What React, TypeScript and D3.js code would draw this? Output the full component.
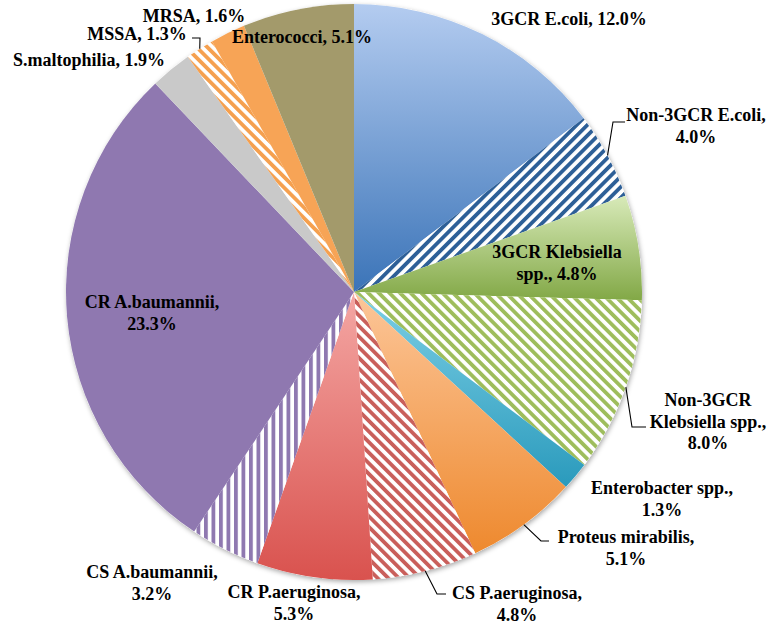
import React from "react";
import * as d3 from "d3";

const categories = [
  "3GCR E.coli",
  "Non-3GCR E.coli",
  "3GCR Klebsiella spp.",
  "Non-3GCR Klebsiella spp.",
  "Enterobacter spp.",
  "Proteus mirabilis",
  "CS P.aeruginosa",
  "CR P.aeruginosa",
  "CS A.baumannii",
  "CR A.baumannii",
  "S.maltophilia",
  "MSSA",
  "MRSA",
  "Enterococci",
];
const values = [12.0, 4.0, 4.8, 8.0, 1.3, 5.1, 4.8, 5.3, 3.2, 23.3, 1.9, 1.3, 1.6, 5.1];

// styles per slice
type Fill =
  | { kind: "grad"; top: string; bottom: string }
  | { kind: "flat"; color: string }
  | { kind: "hatch"; color: string; angle: number };
const fills: Fill[] = [
  { kind: "grad", top: "#b4ccf0", bottom: "#3b74b8" },
  { kind: "hatch", color: "#2d5f97", angle: 45 },
  { kind: "grad", top: "#d8eab9", bottom: "#82a846" },
  { kind: "hatch", color: "#9ebd5c", angle: -45 },
  { kind: "grad", top: "#7ccfe5", bottom: "#2a9abc" },
  { kind: "grad", top: "#fcc699", bottom: "#ee892e" },
  { kind: "hatch", color: "#c95f5b", angle: -45 },
  { kind: "grad", top: "#f4a7a4", bottom: "#d9524e" },
  { kind: "hatch", color: "#8f78b0", angle: 0 },
  { kind: "flat", color: "#8f78b0" },
  { kind: "flat", color: "#c9c9c9" },
  { kind: "hatch", color: "#f5a04f", angle: -45 },
  { kind: "flat", color: "#f7a456" },
  { kind: "flat", color: "#a39a6b" },
];

// label layout (x = text centre, y = first line centre)
const labelLines: string[][] = [
  ["3GCR E.coli, 12.0%"],
  ["Non-3GCR E.coli,", "4.0%"],
  ["3GCR Klebsiella", "spp., 4.8%"],
  ["Non-3GCR", "Klebsiella spp.,", "8.0%"],
  ["Enterobacter spp.,", "1.3%"],
  ["Proteus mirabilis,", "5.1%"],
  ["CS P.aeruginosa,", "4.8%"],
  ["CR P.aeruginosa,", "5.3%"],
  ["CS A.baumannii,", "3.2%"],
  ["CR A.baumannii,", "23.3%"],
  ["S.maltophilia, 1.9%"],
  ["MSSA, 1.3%"],
  ["MRSA, 1.6%"],
  ["Enterococci, 5.1%"],
];
const labelPos: [number, number][] = [
  [569, 19],
  [696, 115],
  [557, 252],
  [708, 400],
  [662, 488],
  [626, 537],
  [517, 593],
  [294, 592],
  [152, 572],
  [152, 302],
  [89, 60],
  [137, 34],
  [194, 16],
  [302, 37],
];
// leader lines: [elbowX, elbowY, endX] or null
const leaders: ([number, number, number] | null)[] = [
  null,
  [613, 122, 625],
  null,
  [632, 427, 646],
  null,
  [541, 541, 549],
  [437, 594, 446],
  null,
  null,
  null,
  null,
  [200, 38, 192],
  null,
  null,
];

const W = 774;
const H = 624;
const CX = 354;
const CY = 292;
const R = 288;
const FONT = "'Liberation Serif', 'Times New Roman', serif";

export default function App() {
  const pie = d3
    .pie<number>()
    .sort(null)
    .value((d) => d)
    .startAngle(0)
    .endAngle(2 * Math.PI);
  const arcs = pie(values);
  const arcGen = d3.arc<d3.PieArcDatum<number>>().innerRadius(0).outerRadius(R);

  return (
    <svg width={W} height={H} style={{ position: "absolute", left: 0, top: 0, background: "#fff" }}>
      <defs>
        <filter id="shadow" x="-10%" y="-10%" width="120%" height="120%">
          <feDropShadow dx="1" dy="2" stdDeviation="2.5" floodColor="#000" floodOpacity="0.35" />
        </filter>
        {fills.map((f, i) =>
          f.kind === "grad" ? (
            <linearGradient key={i} id={`g${i}`} x1="0" y1="0" x2="0" y2="1">
              <stop offset="0" stopColor={f.top} />
              <stop offset="1" stopColor={f.bottom} />
            </linearGradient>
          ) : f.kind === "hatch" ? (
            <pattern
              key={i}
              id={`g${i}`}
              patternUnits="userSpaceOnUse"
              width={7.5}
              height={10}
              patternTransform={`rotate(${f.angle})`}
            >
              <rect x={0} y={0} width={7.5} height={10} fill="#fff" />
              <rect x={0} y={0} width={3.8} height={10} fill={f.color} />
            </pattern>
          ) : null
        )}
      </defs>
      <circle cx={CX} cy={CY} r={R} fill="#fff" filter="url(#shadow)" />
      <g transform={`translate(${CX},${CY})`}>
        {arcs.map((a, i) => {
          const f = fills[i];
          const fill = f.kind === "flat" ? f.color : `url(#g${i})`;
          return <path key={i} d={arcGen(a) || ""} fill={fill} />;
        })}
      </g>
      <g fill="none" stroke="#000" strokeWidth={1.1}>
        {arcs.map((a, i) => {
          const l = leaders[i];
          if (!l) return null;
          const mid = (a.startAngle + a.endAngle) / 2;
          const sx = CX + Math.sin(mid) * R;
          const sy = CY - Math.cos(mid) * R;
          return <path key={i} d={`M${sx},${sy}L${l[0]},${l[1]}L${l[2]},${l[1]}`} />;
        })}
      </g>
      <g fontFamily={FONT} fontWeight="bold" fontSize={18} fill="#000" textAnchor="middle">
        {labelLines.map((lines, i) => (
          <text key={i} x={labelPos[i][0]} y={labelPos[i][1]}>
            {lines.map((ln, j) => (
              <tspan key={j} x={labelPos[i][0]} y={labelPos[i][1] + j * 21.5} dy="0.35em">
                {ln}
              </tspan>
            ))}
          </text>
        ))}
      </g>
    </svg>
  );
}
